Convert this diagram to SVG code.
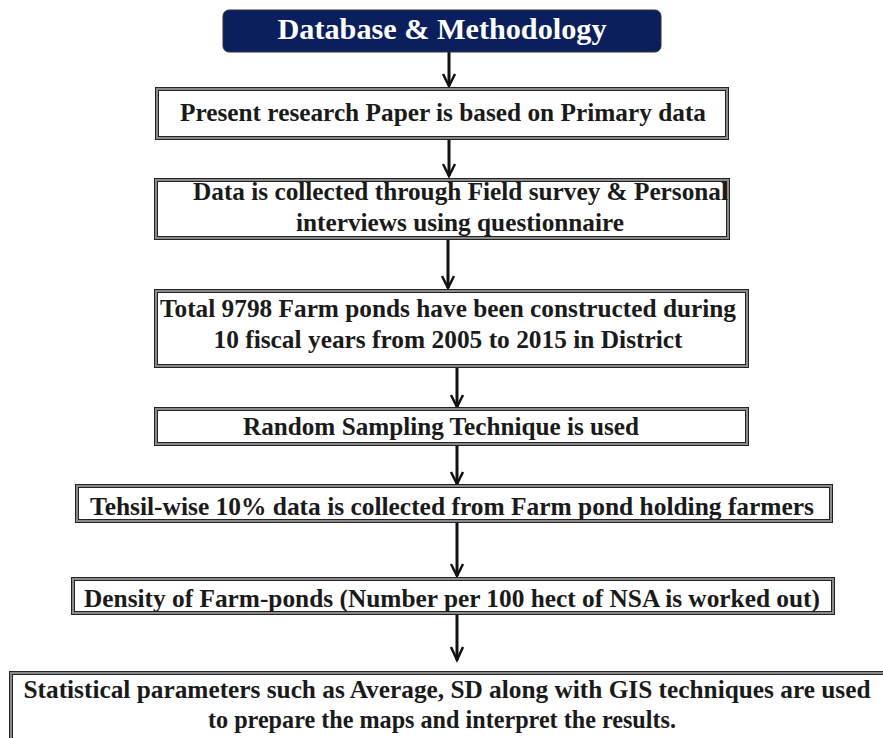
<svg xmlns="http://www.w3.org/2000/svg" width="883" height="738" viewBox="0 0 883 738">
<style>
.t{font-family:'Liberation Serif',Tinos,'Times New Roman',Times,serif;font-weight:700;font-size:25px;fill:#1a1a1a}
.title{font-family:'Liberation Serif',Tinos,'Times New Roman',Times,serif;font-weight:700;font-size:29px;fill:#fff}
.fm{fill:#fff;stroke:#8a8a8a;stroke-width:4}
.ed{fill:none;stroke:#222;stroke-width:1}
.ln{stroke:#111;stroke-width:3;fill:none}
.hd{stroke:#111;stroke-width:2.5;fill:none;stroke-linejoin:miter}
</style>
<rect width="883" height="738" fill="#fff"/>
<g id="connectors">
<line class="ln" x1="449" y1="52" x2="449" y2="86"/><polyline class="hd" points="443,74 449,86 455,74"/>
<line class="ln" x1="449" y1="138" x2="449" y2="176"/><polyline class="hd" points="443,164 449,176 455,164"/>
<line class="ln" x1="448" y1="239" x2="448" y2="288"/><polyline class="hd" points="442,276 448,288 454,276"/>
<line class="ln" x1="457" y1="367" x2="457" y2="407"/><polyline class="hd" points="451,395 457,407 463,395"/>
<line class="ln" x1="457" y1="445" x2="457" y2="484"/><polyline class="hd" points="451,472 457,484 463,472"/>
<line class="ln" x1="457" y1="522" x2="457" y2="576"/><polyline class="hd" points="451,564 457,576 463,564"/>
<line class="ln" x1="457" y1="614" x2="457" y2="660"/><polyline class="hd" points="451,647 457,660 463,647"/>
</g>
<g id="title">
<rect x="223" y="10" width="438" height="42" rx="6" fill="#0b1f5e" stroke="#333" stroke-width="1"/>
<text class="title" x="442" y="39" text-anchor="middle" textLength="329" lengthAdjust="spacingAndGlyphs">Database &amp; Methodology</text>
</g>
<g id="n1">
<rect class="fm" x="157" y="89" width="570" height="49"/>
<rect class="ed" x="155.5" y="87.5" width="573" height="52"/><rect class="ed" x="158.5" y="90.5" width="567" height="46"/>
<text class="t" x="443" y="121" text-anchor="middle" textLength="526" lengthAdjust="spacingAndGlyphs">Present research Paper is based on Primary data</text>
</g>
<g id="n2">
<rect class="fm" x="156" y="180" width="572" height="58"/>
<rect class="ed" x="154.5" y="178.5" width="575" height="61"/><rect class="ed" x="157.5" y="181.5" width="569" height="55"/>
<text class="t" x="193" y="200" textLength="535" lengthAdjust="spacingAndGlyphs">Data is collected through Field survey &amp; Personal</text>
<text class="t" x="460" y="231" text-anchor="middle" textLength="328" lengthAdjust="spacingAndGlyphs">interviews using questionnaire</text>
</g>
<g id="n3">
<rect class="fm" x="156" y="291" width="591" height="75"/>
<rect class="ed" x="154.5" y="289.5" width="594" height="78"/><rect class="ed" x="157.5" y="292.5" width="588" height="72"/>
<text class="t" x="448" y="317" text-anchor="middle" textLength="576" lengthAdjust="spacingAndGlyphs">Total 9798 Farm ponds have been constructed during</text>
<text class="t" x="448" y="348" text-anchor="middle" textLength="469" lengthAdjust="spacingAndGlyphs">10 fiscal years from 2005 to 2015 in District</text>
</g>
<g id="n4">
<rect class="fm" x="156" y="409" width="591" height="35"/>
<rect class="ed" x="154.5" y="407.5" width="594" height="38"/><rect class="ed" x="157.5" y="410.5" width="588" height="32"/>
<text class="t" x="441" y="435" text-anchor="middle" textLength="396" lengthAdjust="spacingAndGlyphs">Random Sampling Technique is used</text>
</g>
<g id="n5">
<rect class="fm" x="77" y="486" width="754" height="35"/>
<rect class="ed" x="75.5" y="484.5" width="757" height="38"/><rect class="ed" x="78.5" y="487.5" width="751" height="32"/>
<text class="t" x="452" y="515" text-anchor="middle" textLength="724" lengthAdjust="spacingAndGlyphs">Tehsil-wise 10% data is collected from Farm pond holding farmers</text>
</g>
<g id="n6">
<rect class="fm" x="73" y="579" width="760" height="34"/>
<rect class="ed" x="71.5" y="577.5" width="763" height="37"/><rect class="ed" x="74.5" y="580.5" width="757" height="31"/>
<text class="t" x="452" y="607" text-anchor="middle" textLength="736" lengthAdjust="spacingAndGlyphs">Density of Farm-ponds (Number per 100 hect of NSA is worked out)</text>
</g>
<g id="n7">
<rect class="fm" x="11" y="673" width="880" height="80"/>
<rect class="ed" x="9.5" y="671.5" width="883" height="83"/><rect class="ed" x="12.5" y="674.5" width="877" height="77"/>
<text class="t" x="447" y="698" text-anchor="middle" textLength="847" lengthAdjust="spacingAndGlyphs">Statistical parameters such as Average, SD along with GIS techniques are used</text>
<text class="t" x="442" y="728" text-anchor="middle" textLength="468" lengthAdjust="spacingAndGlyphs">to prepare the maps and interpret the results.</text>
</g>
</svg>
